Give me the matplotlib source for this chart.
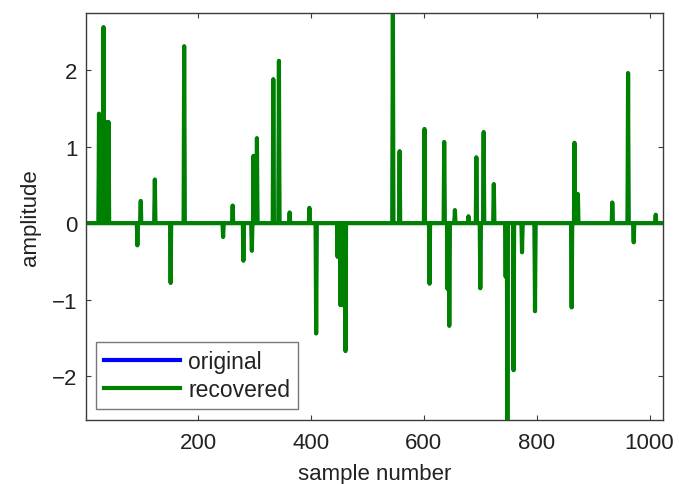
import numpy as np
import matplotlib
matplotlib.use("Agg")
import matplotlib.pyplot as plt

# ---- data ----
n_samples = 1024
spike_pos = [24, 32, 37, 41, 92, 98, 123, 151, 175, 244, 261, 280, 295, 298, 304,
             333, 343, 362, 397, 409, 447, 452, 456, 461, 545, 557, 601, 610, 636,
             642, 645, 655, 679, 693, 700, 706, 724, 745, 748, 759, 774, 797, 862,
             867, 873, 934, 962, 972, 1011]
spike_val = [1.43, 2.56, 1.32, 1.32, -0.29, 0.29, 0.57, -0.78, 2.31, -0.18, 0.23, -0.49, -0.36, 0.88, 1.11,
             1.88, 2.12, 0.14, 0.20, -1.44, -0.44, -1.07, -1.07, -1.67, 2.75, 0.94, 1.23, -0.79, 1.06,
             -0.86, -1.34, 0.17, 0.09, 0.86, -0.85, 1.19, 0.51, -0.70, -2.57, -1.92, -0.38, -1.15, -1.10,
             1.05, 0.38, 0.27, 1.96, -0.25, 0.11]
x_ticks = [200, 400, 600, 800, 1000]
y_ticks = [-2, -1, 0, 1, 2]
legend_labels = ["original", "recovered"]

sample = np.arange(1, n_samples + 1)
original = np.zeros(n_samples)
original[np.array(spike_pos) - 1] = spike_val
recovered = original.copy()

plt.rcParams['font.family'] = ['Liberation Sans', 'DejaVu Sans']
fs = 16
fig = plt.figure(figsize=(6.79, 4.85), dpi=100)
ax = fig.add_axes([0.1267, 0.132, 0.8498, 0.840])

ax.plot(sample, original, color=(0, 0, 1), lw=2.4, solid_joinstyle='round', label=legend_labels[0])
ax.plot(sample, recovered, color=(0, 0.5, 0), lw=3, solid_joinstyle='round', label=legend_labels[1])

ax.set_xlim(1, n_samples)
ax.set_ylim(recovered.min(), recovered.max())
ax.set_xticks(x_ticks)
ax.set_yticks(y_ticks)

frame_c = '#3c3c3c'
for s in ax.spines.values():
    s.set_color(frame_c)
    s.set_linewidth(1.0)
ax.tick_params(direction='in', length=3.5, width=0.8, color=frame_c,
               top=True, right=True, labelsize=fs, labelcolor='#222222')
ax.tick_params(axis='x', pad=9)
ax.tick_params(axis='y', pad=6)
ax.set_xlabel("sample number", fontsize=fs, color='#222222', labelpad=7)
ax.set_ylabel("amplitude", fontsize=fs, color='#222222', labelpad=8)

leg = ax.legend(loc='lower left', bbox_to_anchor=(0.018, 0.027), borderaxespad=0,
                fontsize=fs + 0.5, frameon=True, fancybox=False, handlelength=3.3,
                handletextpad=0.35, borderpad=0.35, labelspacing=0.2)
leg.get_frame().set_edgecolor('#555555')
leg.get_frame().set_linewidth(1.0)
leg.legend_handles[0].set_linewidth(3)
for t in leg.get_texts():
    t.set_color('#222222')

fig.savefig("out.png", dpi=100)
